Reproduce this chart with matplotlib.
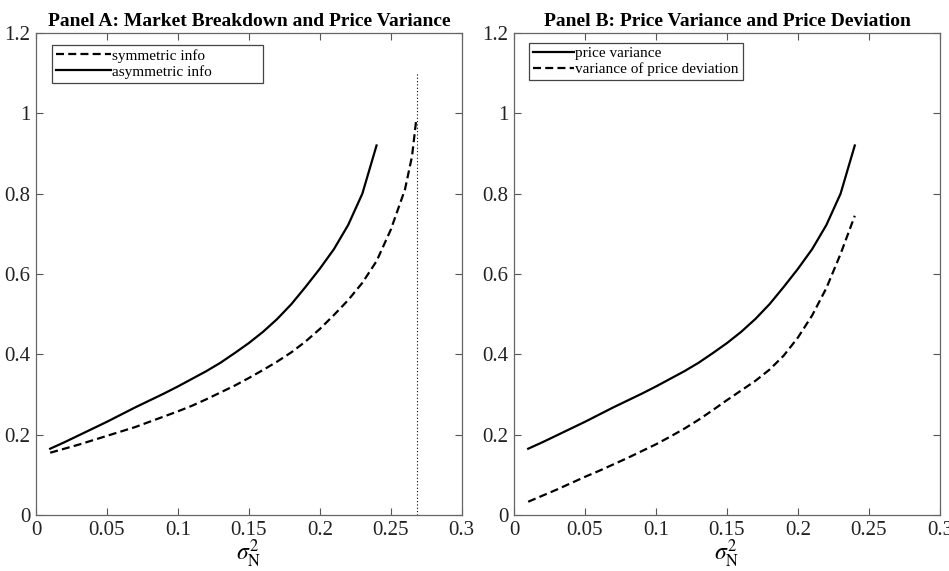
import matplotlib
matplotlib.use("Agg")
import matplotlib.pyplot as plt
import numpy as np

plt.rcParams['font.family'] = ['Liberation Serif', 'DejaVu Serif']
plt.rcParams['mathtext.fontset'] = 'stix'

# sigma_N^2 grid (0.01 steps)
sigma2 = [0.01, 0.02, 0.03, 0.04, 0.05, 0.06, 0.07, 0.08, 0.09, 0.10, 0.11, 0.12,
          0.13, 0.14, 0.15, 0.16, 0.17, 0.18, 0.19, 0.20, 0.21, 0.22, 0.23, 0.24]

# price variance, asymmetric info (also Panel B solid)
price_var = [0.165, 0.181, 0.198, 0.215, 0.232, 0.250, 0.268, 0.285, 0.302, 0.320,
             0.339, 0.358, 0.379, 0.403, 0.428, 0.456, 0.488, 0.525, 0.568, 0.613,
             0.662, 0.722, 0.800, 0.920]

# price variance, symmetric info (goes further, up to breakdown)
sigma2_sym = [0.01, 0.02, 0.03, 0.04, 0.05, 0.06, 0.07, 0.08, 0.09, 0.10, 0.11, 0.12,
              0.13, 0.14, 0.15, 0.16, 0.17, 0.18, 0.19, 0.20, 0.21, 0.22, 0.23, 0.24,
              0.25, 0.26, 0.265, 0.268]
sym_var = [0.155, 0.165, 0.175, 0.186, 0.197, 0.208, 0.219, 0.232, 0.245, 0.258,
           0.272, 0.288, 0.305, 0.322, 0.341, 0.361, 0.382, 0.405, 0.432, 0.463,
           0.498, 0.535, 0.578, 0.632, 0.710, 0.810, 0.893, 0.985]

# variance of price deviation (Panel B dashed)
dev_var = [0.033, 0.048, 0.063, 0.079, 0.095, 0.110, 0.126, 0.142, 0.159, 0.176,
           0.195, 0.215, 0.237, 0.261, 0.286, 0.310, 0.334, 0.362, 0.397, 0.442,
           0.497, 0.565, 0.650, 0.745]

breakdown_x = 0.2687
breakdown_top = 1.1

xticks = [0, 0.05, 0.1, 0.15, 0.2, 0.25, 0.3]
xtick_labels = ['0', '0.05', '0.1', '0.15', '0.2', '0.25', '0.3']
yticks = [0, 0.2, 0.4, 0.6, 0.8, 1.0, 1.2]
ytick_labels = ['0', '0.2', '0.4', '0.6', '0.8', '1', '1.2']

fig = plt.figure(figsize=(9.49, 5.71), dpi=100)
axA = fig.add_axes([0.0379, 0.0981, 0.4486, 0.8441])
axB = fig.add_axes([0.5416, 0.0981, 0.4489, 0.8441])

dash = (0, (3.6, 1.9))

def style(ax, title):
    ax.set_xlim(0, 0.3)
    ax.set_ylim(0, 1.2)
    ax.set_xticks(xticks)
    ax.set_xticklabels(xtick_labels)
    ax.set_yticks(yticks)
    ax.set_yticklabels(ytick_labels)
    ax.tick_params(direction='in', top=True, right=True, length=5, width=0.8,
                   color='#555555', labelsize=15, labelcolor='#222222', pad=4)
    for s in ax.spines.values():
        s.set_color('#666666')
        s.set_linewidth(0.9)
    ax.set_title(title, fontsize=14, fontweight='bold', pad=5)
    ax.set_xlabel(r'$\sigma^2_{\rm N}$', fontsize=17, labelpad=-1)

# Panel A
axA.plot(sigma2_sym, sym_var, color='black', lw=1.6, linestyle=dash,
         label='symmetric info' + ' ' * 14)
axA.plot(sigma2, price_var, color='black', lw=1.6, label='asymmetric info')
axA.plot([breakdown_x, breakdown_x], [0, breakdown_top], color='black', lw=0.8,
         linestyle=(0, (1, 2)))
style(axA, 'Panel A: Market Breakdown and Price Variance')
legA = axA.legend(loc='upper left', bbox_to_anchor=(0.0376, 0.975), fontsize=11,
                  handlelength=3.6, handletextpad=0.1, borderpad=0.25, labelspacing=0.15,
                  fancybox=False, edgecolor='#444444', framealpha=1, borderaxespad=0)
legA.get_frame().set_linewidth(0.9)

# Panel B
axB.plot(sigma2, price_var, color='black', lw=1.6, label='price variance')
axB.plot(sigma2, dev_var, color='black', lw=1.6, linestyle=dash,
         label='variance of price deviation')
style(axB, 'Panel B: Price Variance and Price Deviation')
legB = axB.legend(loc='upper left', bbox_to_anchor=(0.035, 0.98), fontsize=11,
                  handlelength=2.7, handletextpad=0.1, borderpad=0.25, labelspacing=0.15,
                  fancybox=False, edgecolor='#444444', framealpha=1, borderaxespad=0)
legB.get_frame().set_linewidth(0.9)

fig.savefig('out.png', dpi=100)
